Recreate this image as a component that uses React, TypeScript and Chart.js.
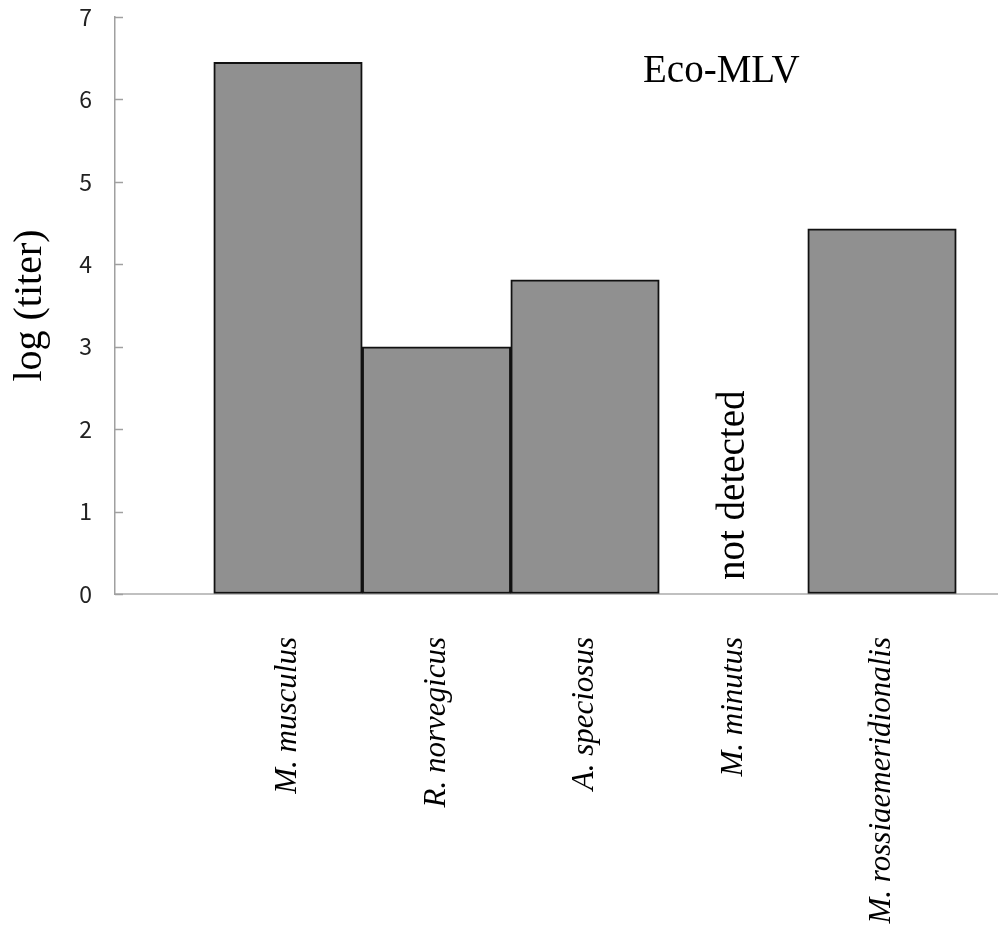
import React, { useEffect, useRef } from "react";
import { Chart, registerables } from "chart.js";

Chart.register(...registerables);

const categories = [
  "M. musculus",
  "R. norvegicus",
  "A. speciosus",
  "M. minutus",
  "M. rossiaemeridionalis",
];
const titerValues: (number | null)[] = [6.45, 3.0, 3.81, null, 4.43];
const notDetectedFlags = [false, false, false, true, false];
const yTicks = [0, 1, 2, 3, 4, 5, 6, 7];
const virusLabel = "Eco-MLV";
const yTitle = "log (titer)";
const notDetectedText = "not detected";

const SERIF = '"Liberation Serif", "Times New Roman", serif';
const SANS = '"Noto Sans CJK JP", "DejaVu Sans", sans-serif';

const overlayPlugin = {
  id: "overlay",
  afterDatasetsDraw(chart: any) {
    const { ctx, chartArea, scales } = chart;
    const xs = scales.x;
    const ys = scales.y;
    ctx.save();
    // inner tick marks on y axis
    ctx.strokeStyle = "#a0a0a0";
    ctx.lineWidth = 1.5;
    yTicks.forEach((t) => {
      const py = Math.round(ys.getPixelForValue(t)) + 0.5;
      ctx.beginPath();
      ctx.moveTo(chartArea.left, py);
      ctx.lineTo(chartArea.left + 8, py);
      ctx.stroke();
    });
    // "not detected" annotation
    ctx.fillStyle = "#000";
    ctx.font = `39px ${SERIF}`;
    notDetectedFlags.forEach((flag, i) => {
      if (!flag) return;
      const px = xs.getPixelForValue(i + 1);
      const py = ys.getPixelForValue(0) - 14;
      ctx.save();
      ctx.translate(px, py);
      ctx.rotate(-Math.PI / 2);
      ctx.textAlign = "left";
      ctx.textBaseline = "middle";
      ctx.fillText(notDetectedText, 0, 0);
      ctx.restore();
    });
    // virus label
    ctx.font = `39px ${SERIF}`;
    ctx.textAlign = "left";
    ctx.textBaseline = "alphabetic";
    const lx = chartArea.left + (chartArea.right - chartArea.left) * 0.598;
    const ly = ys.getPixelForValue(6.21);
    ctx.fillText(virusLabel, lx, ly);
    ctx.restore();
  },
};

export default function App() {
  const canvasRef = useRef<HTMLCanvasElement | null>(null);

  useEffect(() => {
    if (!canvasRef.current) return;
    const chart = new Chart(canvasRef.current, {
      type: "bar",
      data: {
        datasets: [
          {
            label: virusLabel,
            data: titerValues.map((v, i) => ({ x: i + 1, y: v })) as any,
            backgroundColor: "#909090",
            borderColor: "#111",
            borderWidth: 2,
            borderSkipped: false,
            barPercentage: 1,
            categoryPercentage: 1,
          },
        ],
      },
      options: {
        animation: false,
        responsive: true,
        maintainAspectRatio: false,
        layout: { padding: { top: 17, left: 0, right: 0, bottom: 0 } },
        plugins: {
          legend: { display: false },
          tooltip: { enabled: false },
          title: { display: false },
        },
        scales: {
          x: {
            type: "linear",
            min: -0.165,
            max: 5.781,
            offset: false,
            grid: { display: false, drawTicks: false },
            border: { display: true, color: "#c0c0c0", width: 2 },
            afterBuildTicks: (scale: any) => {
              scale.ticks = categories.map((_, i) => ({ value: i + 1 }));
            },
            afterFit: (scale: any) => {
              scale.height = 338;
            },
            ticks: {
              autoSkip: false,
              minRotation: 90,
              maxRotation: 90,
              padding: 43,
              color: "#000",
              font: { family: SERIF, size: 31, style: "italic" },
              callback: (v: any) => categories[Number(v) - 1] ?? "",
            },
          },
          y: {
            min: 0,
            max: 7,
            grid: {
              display: true,
              drawOnChartArea: false,
              drawTicks: true,
              tickLength: 20,
              color: "rgba(0,0,0,0)",
            },
            border: { display: true, color: "#a0a0a0", width: 1.5 },
            afterBuildTicks: (scale: any) => {
              scale.ticks = yTicks.map((v) => ({ value: v }));
            },
            afterFit: (scale: any) => {
              scale.width = 115;
            },
            ticks: {
              padding: 3,
              color: "#222",
              font: { family: SANS, size: 23 },
              callback: (v: any) => String(v),
            },
            title: {
              display: true,
              text: yTitle,
              color: "#000",
              font: { family: SERIF, size: 40 },
              padding: { top: 6, bottom: 0 },
            },
          },
        },
      },
      plugins: [overlayPlugin],
    });
    return () => chart.destroy();
  }, []);

  return (
    <div
      style={{
        position: "fixed",
        left: 0,
        top: 0,
        width: 998,
        height: 932,
        background: "#fff",
      }}
    >
      <canvas ref={canvasRef} />
    </div>
  );
}
